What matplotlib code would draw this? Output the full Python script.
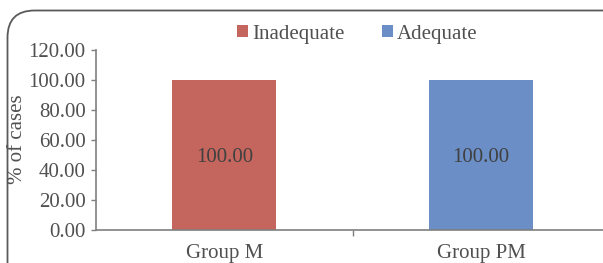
import matplotlib
matplotlib.use("Agg")
import matplotlib.pyplot as plt
from matplotlib.patches import FancyBboxPatch, Patch

categories = ["Group M", "Group PM"]
inadequate = [100.0, 0.0]
adequate = [0.0, 100.0]
series_names = ["Inadequate", "Adequate"]
yticks = [0, 20, 40, 60, 80, 100, 120]

RED = "#C4665D"
BLUE = "#6A8EC5"
TXT = "#505050"
AX = "#7F7F7F"
FS = 15

plt.rcParams["font.family"] = ["Liberation Serif", "DejaVu Serif"]

fig = plt.figure(figsize=(6.03, 2.63), dpi=100)
# rounded outer border (cropped chart area)
border = FancyBboxPatch((7.5 / 603, -0.2), 1.2, 1.2 - 10.5 / 263,
                        boxstyle="round,pad=0,rounding_size=0.045",
                        transform=fig.transFigure, fill=False,
                        edgecolor="#595959", linewidth=1.3,
                        mutation_aspect=603 / 263)
fig.patches.append(border)

ax = fig.add_axes([96 / 603, 1 - 230 / 263, (609.5 - 96) / 603, 180 / 263])
ax.set_facecolor("none")
x = list(range(len(categories)))
w = 0.405
b1 = ax.bar(x, inadequate, width=w, color=RED, zorder=2)
b2 = ax.bar(x, adequate, width=w, bottom=inadequate, color=BLUE, zorder=2)

for bars, vals, base in ((b1, inadequate, [0, 0]), (b2, adequate, inadequate)):
    for rect, v, bs in zip(bars, vals, base):
        if v > 0:
            ax.text(rect.get_x() + rect.get_width() / 2, bs + v / 2 - 1.5,
                    f"{v:.2f}", ha="center", va="center",
                    fontsize=FS, color="#404040")

ax.set_xlim(-0.5, len(categories) - 0.5)
ax.set_ylim(0, 120)
ax.set_yticks(yticks)
ax.set_yticklabels([f"{v:.2f}" for v in yticks], fontsize=FS, color=TXT)
ax.set_xticks(x)
ax.set_xticklabels(categories, fontsize=FS, color=TXT)
ax.set_xticks([0.5], minor=True)
ax.tick_params(axis="x", which="major", length=0, pad=10)
ax.tick_params(axis="x", which="minor", length=4, direction="out", color=AX, width=1)
ax.tick_params(axis="y", length=3.5, direction="out", color=AX, width=1, pad=4)

for s in ("top", "right"):
    ax.spines[s].set_visible(False)
for s in ("left", "bottom"):
    ax.spines[s].set_color(AX)
    ax.spines[s].set_linewidth(1.2)

fig.text(18 / 603, 1 - 139 / 263, "% of cases", rotation=90, ha="center",
         va="center", fontsize=FS, color=TXT)

handles = [Patch(facecolor=RED), Patch(facecolor=BLUE)]
fig.legend(handles, series_names, loc="center", bbox_to_anchor=(357 / 603, 1 - 34 / 263),
           ncol=2, frameon=False, fontsize=FS, handlelength=0.53, handleheight=0.53,
           handletextpad=0.2, columnspacing=1.8, labelcolor=TXT)

fig.savefig("out.png", dpi=100)
